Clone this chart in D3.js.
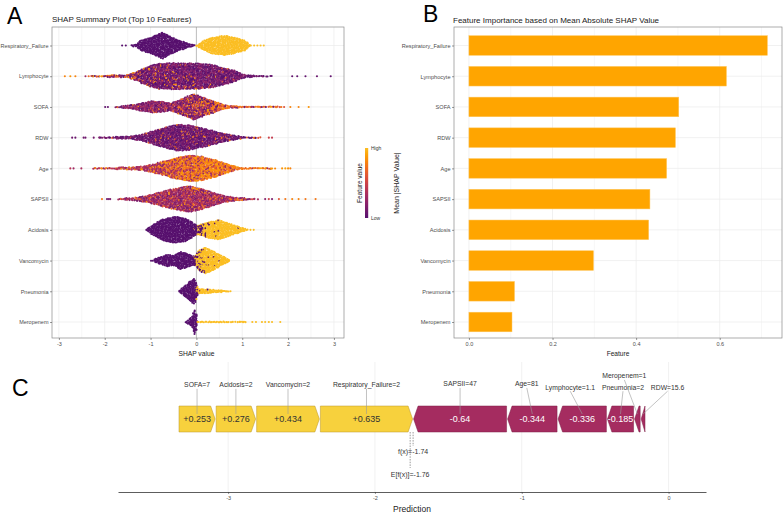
<!DOCTYPE html>
<html><head><meta charset="utf-8">
<script src="https://cdn.jsdelivr.net/npm/d3@7"></script>
<style>
body{margin:0;background:#fff}
svg{display:block}
text{font-family:"Liberation Sans",Arial,Helvetica,sans-serif}
</style>
</head><body>
<svg id="chart" width="784" height="523"></svg>
<script>
// ---------------- DATA ----------------
const features = ["Respiratory_Failure","Lymphocyte","SOFA","RDW","Age","SAPSII","Acidosis","Vancomycin","Pneumonia","Meropenem"];
const meanAbsShap = [0.714,0.616,0.502,0.494,0.473,0.433,0.430,0.298,0.109,0.103];
const shapTicks = [-3,-2,-1,0,1,2,3];
const importanceTicks = [0,0.2,0.4,0.6];

// beeswarm density envelopes (SHAP value -> relative half width)
const envShap = [
  [-1.45,-1.3,-1.22,-1.0,-0.75,-0.53,-0.35,-0.13,-0.02,0.0,0.02,0.16,0.34,0.63,0.96,1.1,1.16,1.2],
  [-2.3,-2.0,-1.7,-1.5,-1.3,-1.19,-1.0,-0.85,-0.5,0.0,0.3,0.6,0.82,0.95,1.05,1.2,1.45,1.65],
  [-1.8,-1.6,-1.33,-1.1,-0.95,-0.75,-0.57,-0.31,-0.06,0.2,0.41,0.63,0.78,1.0,1.4,1.94],
  [-2.13,-1.8,-1.48,-1.26,-1.04,-0.82,-0.6,-0.39,-0.17,0.05,0.34,0.63,0.92,1.07,1.25,1.4],
  [-2.28,-1.8,-1.4,-1.19,-0.97,-0.75,-0.46,-0.1,0.12,0.41,0.63,0.82,0.92,1.2,1.5,1.8],
  [-1.73,-1.4,-1.18,-0.97,-0.6,-0.17,0.05,0.27,0.63,0.92,1.22,1.36],
  [-1.1,-0.97,-0.85,-0.75,-0.46,-0.3,-0.17,-0.06,0.02,0.05,0.27,0.49,0.7,0.92,1.07,1.12],
  [-0.98,-0.82,-0.64,-0.49,-0.35,-0.24,-0.09,-0.02,0.05,0.2,0.34,0.49,0.63,0.74],
  [-0.4,-0.31,-0.24,-0.17,-0.09,-0.05,0.0,0.03,0.05,0.15,0.27,0.49,0.65,0.78],
  [-0.26,-0.17,-0.09,-0.05,-0.02,0.005,0.02,0.04,0.6,1.14]
];
const envWidth = [
  [0.03,0.12,0.375,0.62,1.0,0.62,0.375,0.12,0.04,0.02,0.06,0.375,0.62,0.75,0.5,0.3,0.1,0.03],
  [0.06,0.07,0.09,0.12,0.35,0.55,0.8,0.95,1.0,0.97,0.9,0.65,0.45,0.25,0.12,0.08,0.05,0.03],
  [0.05,0.08,0.2,0.38,0.45,0.4,0.3,0.62,1.0,0.65,0.4,0.15,0.08,0.07,0.05,0.03],
  [0.05,0.07,0.1,0.2,0.4,0.65,0.85,1.0,0.95,0.8,0.55,0.3,0.12,0.06,0.04,0.03],
  [0.05,0.07,0.1,0.15,0.3,0.5,0.8,1.0,0.9,0.65,0.4,0.2,0.08,0.06,0.05,0.03],
  [0.05,0.1,0.2,0.35,0.7,1.0,0.85,0.6,0.25,0.1,0.05,0.03],
  [0.03,0.37,0.6,0.8,1.0,0.92,0.78,0.5,0.35,0.375,0.62,0.75,0.5,0.25,0.08,0.03],
  [0.03,0.25,0.45,0.38,0.66,0.6,0.38,0.35,0.75,1.0,0.78,0.5,0.25,0.04],
  [0.03,0.25,0.45,0.65,0.88,1.0,0.6,0.3,0.2,0.17,0.14,0.1,0.05,0.03],
  [0.03,0.15,0.4,0.85,1.0,0.4,0.08,0.05,0.05,0.03]
];
// share of high feature values along SHAP axis
const highShap = [
  [-2,-0.01,0.01,2],
  [-2.3,-1.5,-1.0,-0.3,0.3,0.8,1.65],
  [-1.8,-1.0,-0.5,-0.1,0.2,0.6,1.94],
  [-2.2,-1.0,0,0.6,1.4],
  [-2.3,-1.2,-0.6,0,0.5,1.8],
  [-1.8,-0.5,0.5,1.4],
  [-1.2,-0.06,0.0,0.15,0.3,1.3],
  [-1,-0.06,0.0,0.1,0.2,0.8],
  [-0.5,-0.01,0.03,0.1,0.8],
  [-0.3,0.005,0.02,2]
];
const highShare = [
  [0,0,1,1],
  [0.5,0.35,0.15,0.1,0.06,0.03,0.03],
  [0.02,0.04,0.1,0.25,0.4,0.7,0.85],
  [0.02,0.05,0.08,0.1,0.3],
  [0.25,0.35,0.55,0.72,0.82,0.9],
  [0.25,0.2,0.15,0.25],
  [0,0,0.35,0.7,0.96,1],
  [0,0,0.35,0.7,0.96,1],
  [0,0,0.55,0.95,1],
  [0,0,1,1]
];
const lowValue  = [0,0.12,0.2,0.1,0.35,0.28,0,0,0,0];
const highValue = [1,0.75,0.72,0.7,0.78,0.7,1,1,1,1];
const valueSpread = [0,0.3,0.35,0.25,0.25,0.35,0,0,0,0];
// isolated tail points
const outlierShap = [
  [-1.62,-1.54,1.26,1.33,1.4,1.47],
  [-2.87,-2.75,-2.64,-2.42,-2.35,2.09,2.2,2.38,2.63,2.93],
  [-1.99,-1.93,2.05,2.23,2.45],
  [-2.71,-2.64,-2.46,-2.42,-2.24,1.58,1.65],
  [-2.75,-2.68,-2.51,1.87,1.94,2.0,2.05],
  [-2.06,-1.95,-1.91,-1.88,1.5,1.58,1.65,1.8,1.94,2.09,2.23,2.38,2.6],
  [1.18,1.25],
  [],
  [],
  [1.22,1.3,1.43,1.5,1.58,1.65,1.83]
];
const outlierValue = [
  [0,0,1,1,1,1],
  [0.8,0.85,0.8,0.3,0.7,0.05,0.05,0.05,0.08,0.05],
  [0.05,0.05,0.8,0.8,0.85],
  [0.1,0.08,0.1,0.1,0.12,0.5,0.45],
  [0.4,0.3,0.35,0.85,0.9,0.85,0.8],
  [0.75,0.1,0.12,0.15,0.2,0.5,0.15,0.6,0.75,0.8,0.8,0.75,0.75],
  [1,1],
  [],
  [],
  [1,1,1,1,1,1,1]
];

// force plot
const forceLabels = ["SOFA=7","Acidosis=2","Vancomycin=2","Respiratory_Failure=2","SAPSII=47","Age=81","Lymphocyte=1.1","Pneumonia=2","Meropenem=1","RDW=15.6"];
const forceValues = [0.253,0.276,0.434,0.635,-0.64,-0.344,-0.336,-0.185,-0.045,-0.033];
const fx = -1.74, efx = -1.76;
const predictionTicks = [-3,-2,-1,0];

// ---------------- DRAW ----------------
const svg = d3.select("#chart");
const GRID = "#EBEBEB", TICKTXT = "#4D4D4D";
const colorOf = t => d3.interpolateInferno(0.25 + 0.6*Math.max(0, Math.min(1, t)));
const plain = d => String(d);
// integer hash (murmur finaliser) used only for the dot texture inside each envelope
function hash(a, b){
  let h = Math.imul(a + 0x165667B1, 0x9E3779B1) ^ Math.imul(b + 0x27D4EB2F, 0x85EBCA77);
  h ^= h >>> 16; h = Math.imul(h, 0x85EBCA6B);
  h ^= h >>> 13; h = Math.imul(h, 0xC2B2AE35);
  h ^= h >>> 16;
  return (h >>> 0) / 4294967296;
}
function interp(xs, ys, x, clampEnds){
  const n = xs.length;
  if (x <= xs[0]) return clampEnds ? ys[0] : (x < xs[0] ? 0 : ys[0]);
  if (x >= xs[n-1]) return clampEnds ? ys[n-1] : (x > xs[n-1] ? 0 : ys[n-1]);
  const i = d3.bisectRight(xs, x);
  const f = (x - xs[i-1])/(xs[i]-xs[i-1]);
  return ys[i-1] + (ys[i]-ys[i-1])*f;
}
function styleAxis(g, size){
  g.selectAll("text").attr("fill", TICKTXT).style("font-size", size+"px");
  g.selectAll(".tick line").attr("stroke", "#333").attr("stroke-width", 0.5);
}

// ---- Panel A ----
const A = {l:52, r:344, t:27, b:338};
const ax = d3.scaleLinear().domain([-3.15,3.22]).range([A.l, A.r]);
const rowY = d3.scalePoint().domain(features).range([45.5, 322]);
const gA = svg.append("g");
d3.range(-3, 3.01, 0.5).forEach(v => {
  gA.append("line").attr("x1", ax(v)).attr("x2", ax(v)).attr("y1", A.t).attr("y2", A.b)
    .attr("stroke", GRID).attr("stroke-width", Number.isInteger(v) ? 0.7 : 0.4);
});
features.forEach(f => gA.append("line").attr("x1", A.l).attr("x2", A.r).attr("y1", rowY(f)).attr("y2", rowY(f))
  .attr("stroke", GRID).attr("stroke-width", 0.7));
gA.append("line").attr("x1", ax(0)).attr("x2", ax(0)).attr("y1", A.t).attr("y2", A.b)
  .attr("stroke", "#9a9a9a").attr("stroke-width", 0.6);

const HALF = 13.3, SX = 1.3, SY = 1.3;
const dots = [];
features.forEach((f, i) => {
  const cy = rowY(f), xs = envShap[i], ws = envWidth[i];
  const x0 = ax(xs[0]), x1 = ax(xs[xs.length-1]);
  let col = 0;
  for (let px = x0; px <= x1 + 0.01; px += SX, col++) {
    const s = ax.invert(px);
    const w = interp(xs, ws, s, false) * HALF;
    const nE = 2*w/SY;
    const cid = i*5000 + col;
    let n;
    if (nE < 1) n = hash(cid, 7) < nE ? 1 : 0;
    else n = Math.round(nE);
    for (let j = 0; j < n; j++) {
      const yy = n === 1 ? 0 : -w + (j + 0.5)*(2*w/n);
      const jx = (hash(cid, j*5+11) - 0.5)*1.0;
      const jy = (hash(cid, j*5+12) - 0.5)*(n === 1 ? 0.7 : 1.0);
      const ss = ax.invert(px + jx);
      const p = interp(highShap[i], highShare[i], ss, true);
      const isHigh = hash(cid, j*5+13) < p;
      const t = (isHigh ? highValue[i] : lowValue[i]) + valueSpread[i]*(hash(cid, j*5+14) - 0.5);
      dots.push({x: px + jx, y: cy + yy + jy, c: colorOf(t)});
    }
  }
  outlierShap[i].forEach((s, j) => dots.push({x: ax(s), y: cy, c: colorOf(outlierValue[i][j])}));
});
gA.append("g").selectAll("circle").data(dots).join("circle")
  .attr("cx", d => d.x).attr("cy", d => d.y).attr("r", 1.05).attr("fill", d => d.c);

gA.append("rect").attr("x", A.l).attr("y", A.t).attr("width", A.r - A.l).attr("height", A.b - A.t)
  .attr("fill", "none").attr("stroke", "#8a8a8a").attr("stroke-width", 0.7);
const axA = gA.append("g").attr("transform", `translate(0,${A.b})`)
  .call(d3.axisBottom(ax).tickValues(shapTicks).tickFormat(plain).tickSize(2).tickPadding(2).tickSizeOuter(0));
axA.select(".domain").remove(); styleAxis(axA, 5.5);
const ayA = gA.append("g").attr("transform", `translate(${A.l},0)`)
  .call(d3.axisLeft(rowY).tickSize(2).tickPadding(1.5).tickSizeOuter(0));
ayA.select(".domain").remove(); styleAxis(ayA, 5.5);
gA.append("text").attr("x", ax(0)).attr("y", 356).attr("text-anchor", "middle")
  .style("font-size", "6.7px").attr("fill", "#222").text("SHAP value");
gA.append("text").attr("x", 52).attr("y", 22).style("font-size", "8px").attr("fill", "#222")
  .text("SHAP Summary Plot (Top 10 Features)");

// legend
const defs = svg.append("defs");
const grad = defs.append("linearGradient").attr("id", "fv").attr("x1", 0).attr("x2", 0).attr("y1", 1).attr("y2", 0);
d3.range(0, 1.001, 0.1).forEach(t => grad.append("stop").attr("offset", t).attr("stop-color", colorOf(t)));
svg.append("rect").attr("x", 365).attr("y", 148).attr("width", 3.2).attr("height", 70).attr("fill", "url(#fv)");
svg.append("text").attr("x", 371).attr("y", 150).style("font-size", "5px").attr("fill", "#333").text("High");
svg.append("text").attr("x", 371).attr("y", 220).style("font-size", "5px").attr("fill", "#333").text("Low");
svg.append("text").attr("transform", "translate(361.6,183) rotate(-90)").attr("text-anchor", "middle")
  .style("font-size", "6.5px").attr("fill", "#222").text("Feature value");

// ---- Panel B ----
const B = {l:454, r:782, t:27, b:338};
const bx = d3.scaleLinear().domain([-0.0357, 0.749]).range([B.l, B.r]);
const gB = svg.append("g");
d3.range(0, 0.71, 0.1).forEach((v, i) => {
  gB.append("line").attr("x1", bx(v)).attr("x2", bx(v)).attr("y1", B.t).attr("y2", B.b)
    .attr("stroke", GRID).attr("stroke-width", i % 2 === 0 ? 0.7 : 0.4);
});
features.forEach(f => gB.append("line").attr("x1", B.l).attr("x2", B.r).attr("y1", rowY(f)).attr("y2", rowY(f))
  .attr("stroke", GRID).attr("stroke-width", 0.7));
const barH = 19.6;
gB.selectAll("rect.bar").data(features).join("rect").attr("class", "bar")
  .attr("x", bx(0)).attr("y", f => rowY(f) - barH/2)
  .attr("width", (f, i) => bx(meanAbsShap[i]) - bx(0)).attr("height", barH)
  .attr("fill", "#FFA500").attr("stroke", "#FFC55A").attr("stroke-width", 0.5);
gB.append("rect").attr("x", B.l).attr("y", B.t).attr("width", B.r - B.l).attr("height", B.b - B.t)
  .attr("fill", "none").attr("stroke", "#8a8a8a").attr("stroke-width", 0.7);
const axB = gB.append("g").attr("transform", `translate(0,${B.b})`)
  .call(d3.axisBottom(bx).tickValues(importanceTicks).tickFormat(d3.format(".1f")).tickSize(2).tickPadding(2).tickSizeOuter(0));
axB.select(".domain").remove(); styleAxis(axB, 5.5);
const ayB = gB.append("g").attr("transform", `translate(${B.l},0)`)
  .call(d3.axisLeft(rowY).tickSize(2).tickPadding(1.5).tickSizeOuter(0));
ayB.select(".domain").remove(); styleAxis(ayB, 5.6);
gB.append("text").attr("x", (B.l + B.r)/2).attr("y", 356).attr("text-anchor", "middle")
  .style("font-size", "6.6px").attr("fill", "#222").text("Feature");
gB.append("text").attr("transform", "translate(399.3,183) rotate(-90)").attr("text-anchor", "middle")
  .style("font-size", "7px").attr("fill", "#222").text("Mean |SHAP Value|");
gB.append("text").attr("x", 453).attr("y", 23).style("font-size", "8px").attr("fill", "#222")
  .text("Feature Importance based on Mean Absolute SHAP Value");

// ---- Panel C ----
const cx = d3.scaleLinear().domain([-3.75, 0.255]).range([118, 706]);
const gC = svg.append("g");
predictionTicks.forEach(v => gC.append("line").attr("x1", cx(v)).attr("x2", cx(v)).attr("y1", 362).attr("y2", 492)
  .attr("stroke", GRID).attr("stroke-width", 0.7));
const aTop = 406, aBot = 432, aMid = 419, HEAD = 4.5;
let pos = fx - d3.sum(forceValues.filter(v => v > 0));
let neg = fx;
const arrows = forceValues.map((v, i) => {
  let a, b;
  if (v > 0) { a = pos; b = pos + v; pos = b; } else { a = neg; b = neg - v; neg = b; }
  return {a: cx(a), b: cx(b), v, i};
});
const arrowPath = d => {
  const a = d.a + 0.5, b = d.b - 0.5, hl = Math.min(HEAD, b - a);
  const pts = d.v > 0
    ? [[a,aTop],[b-hl,aTop],[b,aMid],[b-hl,aBot],[a,aBot]]
    : [[b,aTop],[a+hl,aTop],[a,aMid],[a+hl,aBot],[b,aBot]];
  return "M" + pts.map(p => p.join(",")).join("L") + "Z";
};
gC.selectAll("path.arrow").data(arrows).join("path").attr("class", "arrow")
  .attr("d", arrowPath)
  .attr("fill", d => d.v > 0 ? "#f7d13d" : "#a52c60")
  .attr("stroke", d => d.v > 0 ? "#b8962a" : "#7c1e47").attr("stroke-width", 0.5);
gC.selectAll("text.val").data(arrows.filter(d => Math.abs(d.b - d.a) > 20)).join("text").attr("class", "val")
  .attr("x", d => (d.a + d.b)/2).attr("y", aMid + 3.2).attr("text-anchor", "middle")
  .style("font-size", "9px").attr("fill", d => d.v > 0 ? "#333" : "#fff")
  .text(d => (d.v > 0 ? "+" : "") + String(d.v));
// label layout (repel offsets)
const labDx = [0,0,0,0,0,-5.5,-12,2.5,-13,24.5];
const labY  = [387.4,387.4,387.4,387.4,386.4,386.4,389.7,389.7,378.4,389.7];
arrows.forEach((d, i) => {
  const mx = (d.a + d.b)/2, lx = mx + labDx[i];
  gC.append("line").attr("x1", lx).attr("y1", labY[i] + 1.5).attr("x2", mx).attr("y2", 414)
    .attr("stroke", "#9a9a9a").attr("stroke-width", 0.6);
  gC.append("text").attr("x", lx).attr("y", labY[i]).attr("text-anchor", "middle")
    .style("font-size", "6.8px").attr("fill", "#333").text(forceLabels[i]);
});
gC.append("line").attr("x1", cx(efx)).attr("x2", cx(efx)).attr("y1", aBot).attr("y2", 468)
  .attr("stroke", "#555").attr("stroke-width", 0.6).attr("stroke-dasharray", "1.5,1.2");
gC.append("line").attr("x1", cx(fx)).attr("x2", cx(fx)).attr("y1", aBot).attr("y2", 446)
  .attr("stroke", "#555").attr("stroke-width", 0.6).attr("stroke-dasharray", "1.5,1.2");
gC.append("text").attr("x", cx(fx)).attr("y", 453.5).attr("text-anchor", "middle")
  .style("font-size", "7px").attr("fill", "#333").text("f(x)=" + fx);
gC.append("text").attr("x", cx(efx)).attr("y", 476.5).attr("text-anchor", "middle")
  .style("font-size", "7px").attr("fill", "#333").text("E[f(x)]=" + efx);
const axC = gC.append("g").attr("transform", "translate(0,492)")
  .call(d3.axisBottom(cx).tickValues(predictionTicks).tickFormat(plain).tickSize(2).tickPadding(2).tickSizeOuter(0));
axC.select(".domain").attr("stroke", "#333").attr("stroke-width", 0.8);
styleAxis(axC, 5.5);
gC.append("text").attr("x", 412).attr("y", 512).attr("text-anchor", "middle")
  .style("font-size", "8.5px").attr("fill", "#222").text("Prediction");

// panel letters
[["A", 7, 24], ["B", 423, 22], ["C", 12, 396]].forEach(([t, x, y]) =>
  svg.append("text").attr("x", x).attr("y", y).style("font-size", "23px")
    .style("font-family", "'Liberation Sans',Arial,sans-serif").attr("fill", "#000").text(t));
</script>
</body></html>
